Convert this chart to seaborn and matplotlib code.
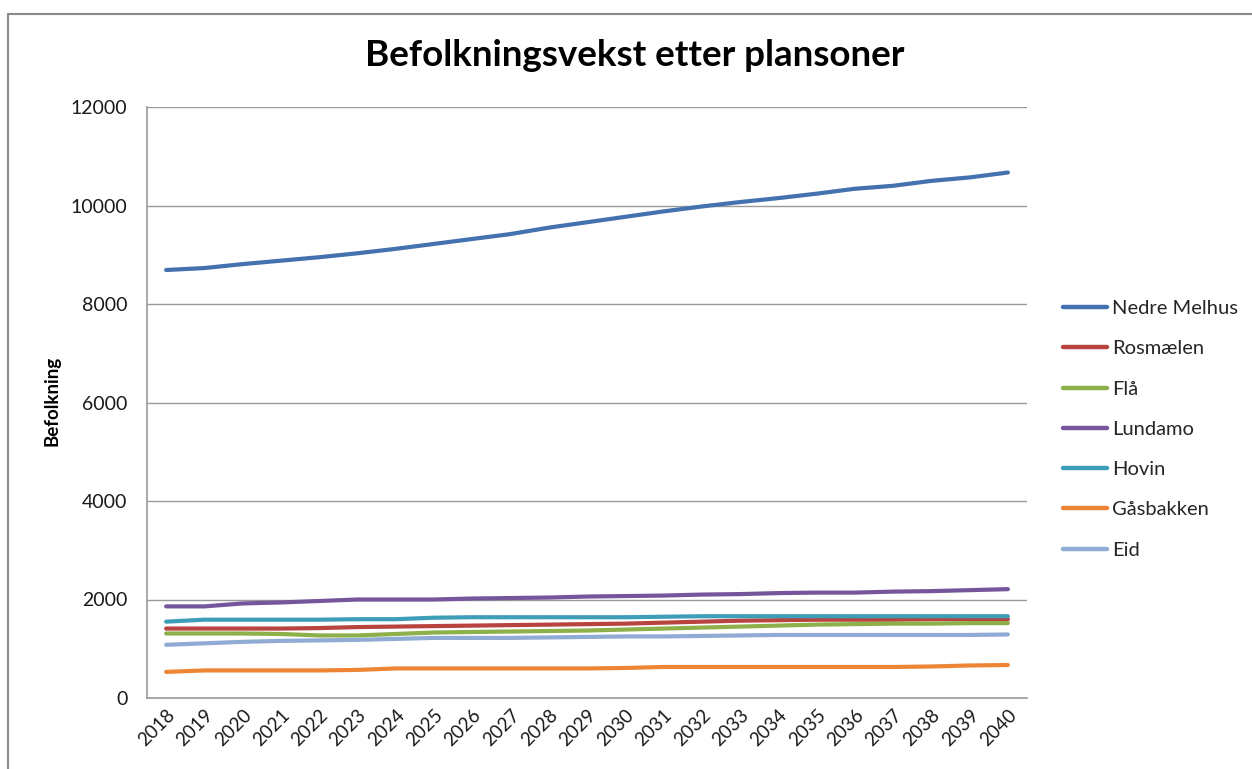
import matplotlib
matplotlib.use("Agg")
import matplotlib.pyplot as plt
import seaborn as sns
import pandas as pd
from matplotlib.lines import Line2D

years = list(range(2018, 2041))

nedre_melhus = [8690, 8730, 8810, 8880, 8950, 9030, 9120, 9220, 9320, 9420, 9550, 9660,
                9770, 9880, 9980, 10070, 10150, 10240, 10340, 10400, 10500, 10570, 10670]
rosmaelen = [1410, 1410, 1410, 1410, 1420, 1440, 1450, 1460, 1470, 1480, 1490, 1500,
             1510, 1530, 1550, 1570, 1580, 1590, 1590, 1590, 1600, 1600, 1600]
fla = [1310, 1310, 1310, 1300, 1270, 1270, 1300, 1330, 1340, 1350, 1360, 1370,
       1390, 1410, 1430, 1450, 1470, 1490, 1500, 1510, 1510, 1520, 1520]
lundamo = [1860, 1860, 1920, 1940, 1970, 2000, 2000, 2000, 2020, 2030, 2040, 2060,
           2070, 2080, 2100, 2110, 2130, 2140, 2140, 2160, 2170, 2190, 2210]
hovin = [1550, 1590, 1590, 1590, 1590, 1600, 1600, 1630, 1640, 1640, 1640, 1640,
         1640, 1650, 1660, 1660, 1660, 1660, 1660, 1660, 1660, 1660, 1660]
gasbakken = [530, 560, 560, 560, 560, 570, 600, 600, 600, 600, 600, 600,
             610, 630, 630, 630, 630, 630, 630, 630, 640, 660, 670]
eid = [1080, 1110, 1140, 1160, 1170, 1180, 1200, 1220, 1220, 1220, 1230, 1240,
       1250, 1250, 1260, 1270, 1280, 1280, 1280, 1280, 1280, 1280, 1290]

series_names = ["Nedre Melhus", "Rosmælen", "Flå", "Lundamo", "Hovin", "Gåsbakken", "Eid"]
series_values = [nedre_melhus, rosmaelen, fla, lundamo, hovin, gasbakken, eid]
colors = ["#4372AF", "#B8433F", "#8DB04A", "#75569B", "#3E9DB7", "#EE8535", "#90ACD4"]

title = "Befolkningsvekst etter plansoner"
ylabel = "Befolkning"
yticks = [0, 2000, 4000, 6000, 8000, 10000, 12000]

rows = []
for name, vals in zip(series_names, series_values):
    for y, v in zip(years, vals):
        rows.append({"year": y, "value": v, "series": name})
df = pd.DataFrame(rows)

sns.set_theme(style="white")
plt.rcParams["font.family"] = ["Lato", "DejaVu Sans"]

W, H = 1252, 769
fig = plt.figure(figsize=(W / 100, H / 100), dpi=100)
ax = fig.add_axes([147 / W, 1 - 698 / H, (1027 - 147) / W, (698 - 107) / H])

sns.lineplot(data=df, x="year", y="value", hue="series", hue_order=series_names,
             palette=colors, linewidth=3.0, ax=ax, legend=False,
             solid_capstyle="round")

ax.set_xlim(2017.5, 2040.5)
ax.set_ylim(0, 12000)
ax.set_yticks(yticks)
ax.set_yticklabels([str(t) for t in yticks], fontsize=14, color="#1a1a1a")
ax.set_xticks(years)
ax.set_xticklabels([str(y) for y in years], rotation=45, ha="right",
                   rotation_mode="anchor", fontsize=13.5, color="#1a1a1a")
ax.tick_params(axis="y", pad=14, length=0)
ax.tick_params(axis="x", pad=6, length=0)
ax.set_xlabel("")
ax.set_ylabel("")
ax.grid(axis="y", color="#9a9a9a", linewidth=1)
ax.grid(axis="x", visible=False)
for s in ["top", "right"]:
    ax.spines[s].set_visible(False)
for s in ["left", "bottom"]:
    ax.spines[s].set_color("#9a9a9a")
    ax.spines[s].set_linewidth(1.2)

fig.text(635 / W, 1 - 55 / H, title, ha="center", va="center",
         fontsize=26.5, fontweight="bold", color="black")
fig.text(52 / W, 1 - 401 / H, ylabel, ha="center", va="center", rotation=90,
         fontsize=13.5, fontweight="bold", color="black")

handles = [Line2D([0], [0], color=c, linewidth=3.2) for c in colors]
fig.legend(handles, series_names, loc="upper left",
           bbox_to_anchor=(1063 / W, 1 - 300 / H), frameon=False,
           fontsize=14.5, handlelength=2.2, handletextpad=0.25,
           labelspacing=1.15, borderpad=0, borderaxespad=0)

# outer chart frame (top and left visible)
fig.add_artist(Line2D([8 / W, 1.0], [1 - 14 / H, 1 - 14 / H], color="#8a8a8a",
                      linewidth=1.5, transform=fig.transFigure))
fig.add_artist(Line2D([8 / W, 8 / W], [1 - 14 / H, 0.0], color="#8a8a8a",
                      linewidth=1.5, transform=fig.transFigure))

fig.savefig("out.png", dpi=100)
